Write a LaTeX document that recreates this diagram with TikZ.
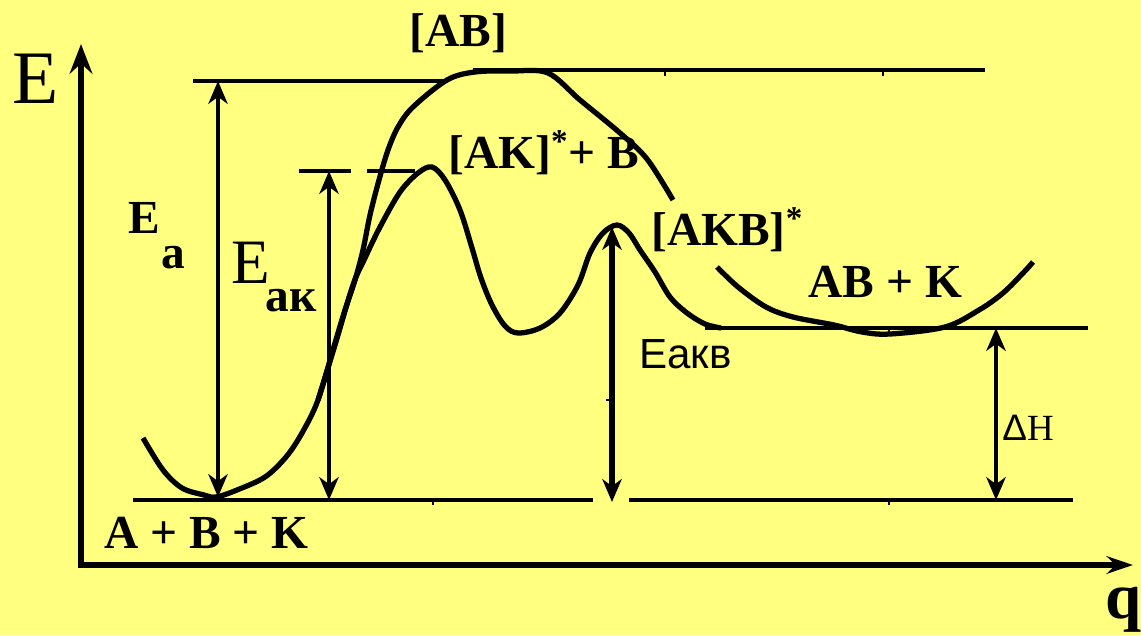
\documentclass[tikz,border=0pt]{standalone}
\usepackage{fontspec}
\setmainfont{Liberation Serif}
\newfontfamily\sansfnt{Liberation Sans}
\usetikzlibrary{arrows.meta}
\definecolor{bgyellow}{RGB}{255,255,128}

\begin{document}
\begin{tikzpicture}[x=0.02cm, y=-0.02cm,
    axis/.style={line width=3.4pt, line join=miter,
      {Stealth[length=17pt,width=13pt,inset=6pt]}-{Stealth[length=15pt,width=10pt,inset=5pt]}},
    level/.style={line width=1.9pt},
    curve/.style={line width=3pt, smooth, tension=0.55},
    dimarrow/.style={line width=2.2pt,
      {Stealth[length=13pt,width=11pt,inset=4pt]}-{Stealth[length=13pt,width=11pt,inset=4pt]}},
    lbl/.style={anchor=base west, inner sep=0pt, font=\fontsize{27}{30}\selectfont\bfseries}]
    \fill[bgyellow] (0,0) rectangle (1141,635);
    \useasboundingbox (0,0) rectangle (1141,635);

    % axes
    \coordinate (ytip) at (81,44);
    \coordinate (origin) at (81,565);
    \coordinate (xtip) at (1133,565);
    \draw[axis] (ytip) -- (origin) -- (xtip);
    \node[anchor=base west, inner sep=0pt, font=\fontsize{43}{45}\selectfont] (Elbl) at (12,103) {E};
    \node[anchor=base west, inner sep=0pt, font=\fontsize{37}{40}\selectfont\bfseries] (qlbl) at (1105,618) {q};

    % energy levels
    \draw[level] (193,81) -- (445,81);
    \draw[level] (473,70) -- (985,70);
    \draw[level] (299,171) -- (351,171);
    \draw[level] (367,171) -- (415,171);
    \draw[level] (705,328) -- (1088,328);
    \draw[level] (133,500) -- (593,500);
    \draw[level] (629,500) -- (1073,500);
    % small ticks
    \draw[line width=1.6pt] (665,71) -- (665,76) (883,71) -- (883,76)
        (433,500) -- (433,505) (889,500) -- (889,505) (889,328) -- (889,334)
        (606,400) -- (612,400);

    % path without catalyst
    \draw[curve] plot coordinates {(143,438) (163,470) (182,488) (204,495) (216,497)
        (237,490) (265,477) (286,457) (302,433) (318,400) (335,343) (345,310)
        (355,280) (363,250) (370,215) (379,180) (388,150) (398,127) (413,107)
        (447,80) (475,72) (512,71) (548,73) (580,100) (620,133) (647,159) (673,200)};
    \draw[curve] plot coordinates {(717,267) (738,287) (766,307) (793,317) (834,325)
        (862,332) (890,334) (945,327) (979,310) (1003,293) (1024,272) (1033,262)};

    % path with catalyst
    \draw[curve] plot coordinates {(318,400) (335,345) (353,285) (365,258) (380,227)
        (400,192) (418,173) (432,167) (445,180) (460,210) (472,248) (481,278)
        (492,305) (505,326) (518,333) (540,328) (560,313) (578,285) (590,253)
        (603,233) (617,225) (629,233) (640,250) (655,272) (670,297) (687,313)
        (705,324) (721,328)};

    % energy differences
    \coordinate (EaTop) at (218,81);
    \coordinate (EaBot) at (218,497);
    \coordinate (EakTop) at (329,171);
    \coordinate (EakBot) at (329,500);
    \coordinate (EakvTop) at (612,227);
    \coordinate (EakvBot) at (612,502);
    \coordinate (dHTop) at (996,328);
    \coordinate (dHBot) at (996,500);
    \draw[dimarrow] (EaTop) -- (EaBot);
    \draw[dimarrow] (EakTop) -- (EakBot);
    \draw[dimarrow, line width=3.8pt] (EakvTop) -- (EakvBot);
    \draw[dimarrow] (dHTop) -- (dHBot);

    % labels
    \node[lbl] (AB) at (409,47) {[AB]};
    \node[lbl] (AKB1) at (448,168) {[AK]\textsuperscript{*}+ B};
    \node[lbl] (AKB2) at (651,245) {[AKB]\textsuperscript{*}};
    \node[lbl] (ABK) at (808,297) {AB + K};
    \node[lbl] (start) at (104,548) {A + B + K};
    \node[lbl] (Ea) at (128,233) {E\hspace{1pt}\raisebox{-20pt}{a}};
    \node[anchor=base west, inner sep=0pt] (Eak) at (231,283)
        {\fontsize{36}{38}\selectfont E\hspace{-2.5pt}\raisebox{-16pt}{\fontsize{27}{30}\selectfont\bfseries ак}};
    \node[anchor=base west, inner sep=0pt, font=\fontsize{24}{26}\selectfont\sansfnt] (Eakv) at (639,368) {Eакв};
    \node[anchor=base west, inner sep=0pt, font=\fontsize{21}{24}\selectfont] (dH) at (1002,440) {{\sansfnt Δ}H};
\end{tikzpicture}
\end{document}
